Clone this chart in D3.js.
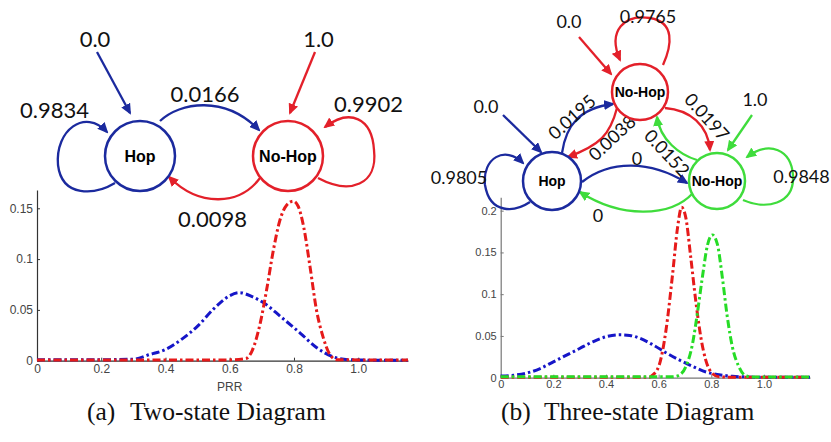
<!DOCTYPE html>
<html><head><meta charset="utf-8">
<script src="https://cdn.jsdelivr.net/npm/d3@7"></script>
<style>html,body{margin:0;padding:0;background:#fff}svg{display:block}</style>
</head><body>
<svg id="fig" width="831" height="442"></svg>
<script>
// ---------- data ----------
const prrTicks = [0, 0.2, 0.4, 0.6, 0.8, 1.0];
const prrTickLabels = ["0", "0.2", "0.4", "0.6", "0.8", "1.0"];
const densTicksA = [0, 0.05, 0.1, 0.15];
const densTickLabelsA = ["0", "0.05", "0.1", "0.15"];
const densTicksB = [0, 0.05, 0.1, 0.15, 0.2];
const densTickLabelsB = ["0", "0.05", "0.1", "0.15", "0.2"];

// two-state model: emission densities over PRR
const twoHopPRR = [0, 0.1, 0.2, 0.3, 0.35, 0.40, 0.45, 0.50, 0.55, 0.60, 0.63, 0.67, 0.71, 0.76, 0.82, 0.87, 0.92, 0.97, 1.05, 1.155];
const twoHopDens = [0.001, 0.001, 0.001, 0.0015, 0.006, 0.011, 0.021, 0.034, 0.051, 0.064, 0.067, 0.063, 0.056, 0.043, 0.027, 0.013, 0.004, 0.001, 0.0005, 0.0005];
const twoNoHopPRR = [0, 0.3, 0.6, 0.65, 0.67, 0.695, 0.715, 0.736, 0.756, 0.777, 0.798, 0.813, 0.83, 0.85, 0.87, 0.89, 0.91, 0.933, 1.0, 1.155];
const twoNoHopDens = [0.0008, 0.0008, 0.0008, 0.002, 0.01, 0.037, 0.07, 0.109, 0.138, 0.153, 0.157, 0.152, 0.132, 0.0925, 0.05, 0.024, 0.007, 0.001, 0.0008, 0.0008];

// three-state model
const threeHopPRR = [0, 0.05, 0.10, 0.15, 0.20, 0.25, 0.30, 0.35, 0.40, 0.45, 0.49, 0.53, 0.58, 0.63, 0.68, 0.73, 0.78, 0.83, 0.88, 0.93, 1.0, 1.175];
const threeHopDens = [0.002, 0.003, 0.0056, 0.011, 0.019, 0.027, 0.035, 0.043, 0.049, 0.0514, 0.0506, 0.047, 0.039, 0.0295, 0.021, 0.0135, 0.0068, 0.0036, 0.0016, 0.001, 0.0005, 0.0005];
const threeNoHopAPRR = [0, 0.3, 0.565, 0.577, 0.602, 0.628, 0.653, 0.672, 0.687, 0.703, 0.722, 0.741, 0.76, 0.779, 0.804, 0.83, 0.9, 1.175];
const threeNoHopADens = [0.0005, 0.0005, 0.0005, 0.003, 0.015, 0.057, 0.124, 0.18, 0.204, 0.192, 0.144, 0.092, 0.049, 0.021, 0.005, 0.001, 0.0005, 0.0005];
const threeNoHopBPRR = [0, 0.3, 0.653, 0.678, 0.703, 0.729, 0.747, 0.766, 0.785, 0.804, 0.823, 0.842, 0.861, 0.88, 0.905, 0.93, 0.956, 1.175];
const threeNoHopBDens = [0.001, 0.001, 0.001, 0.003, 0.013, 0.041, 0.077, 0.12, 0.158, 0.171, 0.16, 0.12, 0.0725, 0.037, 0.013, 0.0024, 0.0008, 0.0008];

// state machines
const twoStates = ["Hop", "No-Hop"];
const twoInitial = ["0.0", "1.0"];
const twoTransitions = [["0.9834", "0.0166"], ["0.0098", "0.9902"]];
const threeStates = ["Hop", "No-Hop", "No-Hop"];
const threeInitial = ["0.0", "0.0", "1.0"];
const threeTransitions = [["0.9805", "0.0195", "0"], ["0.0038", "0.9765", "0.0197"], ["0", "0.0152", "0.9848"]];

const captions = [["(a)", "Two-state Diagram"], ["(b)", "Three-state Diagram"]];

// ---------- styling / layout ----------
const BLUE = "#1b2a9e", RED = "#e3202a", GREEN = "#3fdc3c";
const CBLUE = "#1616c8", CRED = "#e61a1a", CGREEN = "#26dc26";
const svg = d3.select("#fig");

const defs = svg.append("defs");
[["blue", BLUE], ["red", RED], ["green", GREEN]].forEach(([n, c]) => {
  defs.append("marker").attr("id", "ah-" + n)
    .attr("viewBox", "0 0 11 10").attr("refX", 9).attr("refY", 5)
    .attr("markerWidth", 11).attr("markerHeight", 10)
    .attr("markerUnits", "userSpaceOnUse").attr("orient", "auto")
    .append("path").attr("d", "M0,0 L11,5 L0,10 Z").attr("fill", c);
});
const markerOf = c => c === BLUE ? "url(#ah-blue)" : c === RED ? "url(#ah-red)" : "url(#ah-green)";

// ---------- density panels ----------
function panel(cfg) {
  const x = d3.scaleLinear().domain(cfg.xDomain).range(cfg.xRange);
  const y = d3.scaleLinear().domain(cfg.yDomain).range(cfg.yRange);
  const g = svg.append("g");

  const ax = g.append("g").attr("transform", `translate(0,${cfg.yRange[0]})`)
    .call(d3.axisBottom(x).tickValues(prrTicks).tickFormat((d, i) => prrTickLabels[i])
      .tickSizeInner(-3).tickSizeOuter(0).tickPadding(cfg.xPad));
  const ay = g.append("g").attr("transform", `translate(${cfg.xRange[0]},0)`)
    .call(d3.axisLeft(y).tickValues(cfg.yTicks).tickFormat((d, i) => cfg.yLabels[i])
      .tickSizeInner(-3).tickSizeOuter(0).tickPadding(4));
  [ax, ay].forEach(a => {
    a.select(".domain").attr("stroke", cfg.axisColor).attr("stroke-width", 1.2);
    a.selectAll(".tick line").attr("stroke", cfg.axisColor);
    a.selectAll(".tick text").attr("fill", "#444")
      .style("font-family", "'Liberation Sans', Arial, sans-serif").style("font-size", cfg.tickFs + "px");
  });

  const line = d3.line().x(d => x(d[0])).y(d => y(d[1])).curve(d3.curveMonotoneX);
  cfg.series.forEach(s => {
    g.append("path").datum(d3.zip(s.x, s.y)).attr("d", line)
      .attr("fill", "none").attr("stroke", s.color).attr("stroke-width", 3)
      .attr("stroke-dasharray", "8,3,2.5,3").attr("stroke-linejoin", "round");
  });
  if (cfg.xLabel) {
    g.append("text").attr("x", x(0.6)).attr("y", 391).attr("text-anchor", "middle")
      .attr("fill", "#444").style("font-family", "'Liberation Sans', Arial, sans-serif")
      .style("font-size", cfg.tickFs + "px").text(cfg.xLabel);
  }
}

panel({
  xDomain: [0, 1.155], xRange: [37, 408], yDomain: [0, 0.168], yRange: [360.7, 190],
  yTicks: densTicksA, yLabels: densTickLabelsA, axisColor: "#333", xPad: 4, tickFs: 12, xLabel: "PRR",
  series: [
    { x: twoHopPRR, y: twoHopDens, color: CBLUE },
    { x: twoNoHopPRR, y: twoNoHopDens, color: CRED }
  ]
});
panel({
  xDomain: [0, 1.175], xRange: [500.7, 810], yDomain: [0, 0.216], yRange: [377.7, 197.3],
  yTicks: densTicksB, yLabels: densTickLabelsB, axisColor: "#777", xPad: 3, tickFs: 11,
  series: [
    { x: threeHopPRR, y: threeHopDens, color: CBLUE },
    { x: threeNoHopAPRR, y: threeNoHopADens, color: CRED },
    { x: threeNoHopBPRR, y: threeNoHopBDens, color: CGREEN }
  ]
});

// ---------- state diagrams ----------
function diagram(cfg) {
  const g = svg.append("g");
  const lblFont = "Lato, 'Open Sans', sans-serif";
  // initial-probability arrows
  cfg.nodes.forEach((n, i) => {
    const a = cfg.initArrows[i];
    g.append("line").attr("x1", a[0]).attr("y1", a[1]).attr("x2", a[2]).attr("y2", a[3])
      .attr("stroke", n.c).attr("stroke-width", 2.3).attr("marker-end", markerOf(n.c));
    g.append("text").attr("x", cfg.initLabels[i][0]).attr("y", cfg.initLabels[i][1])
      .attr("text-anchor", "middle").attr("fill", "#111")
      .style("font-family", lblFont).style("font-size", cfg.fs + "px").text(cfg.initial[i]);
  });
  // transitions
  cfg.trans.forEach((row, i) => row.forEach((p, j) => {
    const key = i + "-" + j;
    const c = cfg.nodes[i].c;
    g.append("path").attr("d", cfg.edgePaths[key]).attr("fill", "none")
      .attr("stroke", c).attr("stroke-width", 2.3).attr("marker-end", markerOf(c));
    const L = cfg.edgeLabels[key];
    const t = g.append("text").attr("text-anchor", "middle").attr("fill", "#111")
      .style("font-family", lblFont).style("font-size", cfg.fs + "px").text(p);
    if (L[2]) t.attr("transform", `translate(${L[0]},${L[1]}) rotate(${L[2]})`).attr("dy", "0.36em");
    else t.attr("x", L[0]).attr("y", L[1]);
  }));
  // states
  cfg.nodes.forEach((n, i) => {
    g.append("circle").attr("cx", n.x).attr("cy", n.y).attr("r", n.r)
      .attr("fill", "#fff").attr("stroke", n.c).attr("stroke-width", 2.5);
    g.append("text").attr("x", n.x).attr("y", n.y).attr("dy", "0.36em").attr("text-anchor", "middle")
      .attr("fill", "#000").style("font-family", "'Liberation Sans', Arial, sans-serif")
      .style("font-weight", "bold").style("font-size", cfg.nfs + "px").text(cfg.states[i]);
  });
}

diagram({
  states: twoStates, initial: twoInitial, trans: twoTransitions, fs: 22, nfs: 16,
  nodes: [{ x: 140, y: 156, r: 35, c: BLUE }, { x: 288, y: 156, r: 35, c: RED }],
  initArrows: [[97, 52, 130, 113], [315, 52, 290, 113]],
  initLabels: [[95, 47], [318.5, 47]],
  edgePaths: {
    "0-0": "M115,183 C95,195 62,198 58,165 C55,130 85,108 107,132",
    "0-1": "M160,121 C180,102 225,95 259,130",
    "1-0": "M260,178 C240,205 200,208 169,177",
    "1-1": "M318,178 C350,195 378,185 374,150 C372,118 350,108 325,127"
  },
  edgeLabels: {
    "0-0": [54.5, 118], "0-1": [205, 102], "1-0": [212.5, 227], "1-1": [368.5, 112]
  }
});

diagram({
  states: threeStates, initial: threeInitial, trans: threeTransitions, fs: 18, nfs: 14,
  nodes: [{ x: 552, y: 181, r: 29, c: BLUE }, { x: 640, y: 92, r: 28, c: RED }, { x: 717, y: 181, r: 28, c: GREEN }],
  initArrows: [[503, 115, 541, 152], [579, 37, 611, 74], [752, 115, 728, 150]],
  initLabels: [[486, 113], [569, 28], [755, 106]],
  edgePaths: {
    "0-0": "M530,202 C515,212 490,215 485,185 C482,158 505,145 523,163",
    "0-1": "M562,153 C566,125 580,108 613,104",
    "0-2": "M582,182 C610,160 650,160 687,183",
    "1-0": "M617,108 C610,135 600,145 568,157",
    "1-1": "M663,65 C672,45 675,22 650,18 C625,14 607,30 620,60",
    "1-2": "M665,108 C690,110 708,125 710,150",
    "2-0": "M693,193 C670,218 620,218 580,192",
    "2-1": "M697,160 C680,155 660,140 657,117",
    "2-2": "M743,200 C765,210 795,205 793,175 C791,150 770,140 747,157"
  },
  edgeLabels: {
    "0-0": [459, 184], "0-1": [572, 117, -42], "0-2": [637, 165],
    "1-0": [612, 138, -43], "1-1": [648, 23], "1-2": [707, 117, 48],
    "2-0": [598, 222], "2-1": [667, 153, 47], "2-2": [801.5, 183]
  }
});

// ---------- captions ----------
[[87, 130], [501, 544]].forEach((pos, i) => {
  const t = svg.append("g").style("font-family", "'Liberation Serif', 'Times New Roman', serif")
    .style("font-size", "25.5px").attr("fill", "#111");
  t.append("text").attr("x", pos[0]).attr("y", 420).text(captions[i][0]);
  t.append("text").attr("x", pos[1]).attr("y", 420).text(captions[i][1]);
});
</script>
</body></html>
